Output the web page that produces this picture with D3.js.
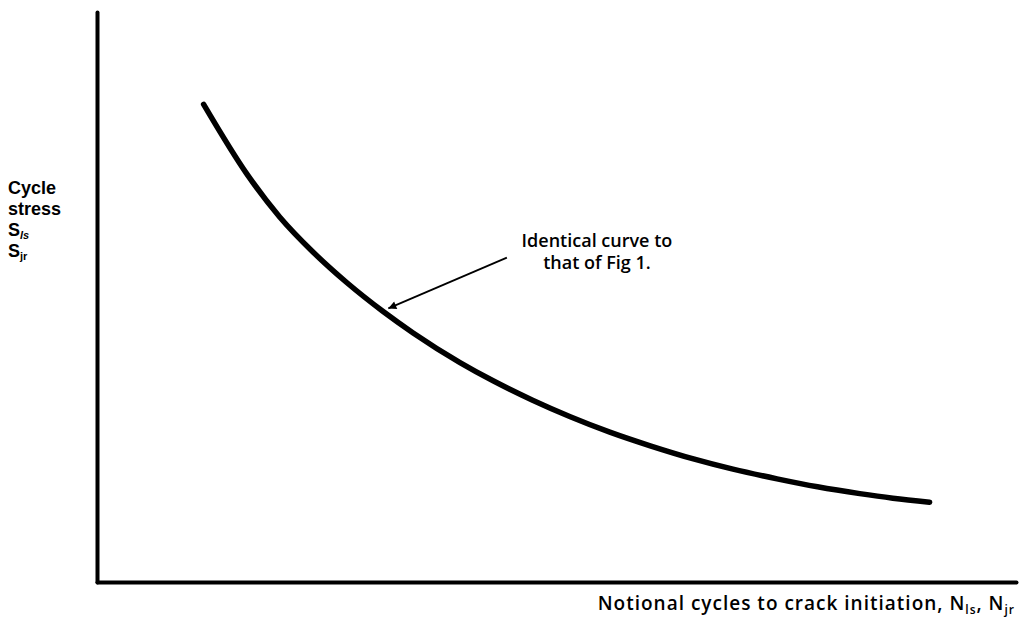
<!DOCTYPE html>
<html>
<head>
<meta charset="utf-8">
<script src="https://cdn.jsdelivr.net/npm/d3@7"></script>
<style>
  body { margin: 0; background: #fff; }
  svg text { font-family: "Open Sans", "Liberation Sans", Arial, sans-serif; font-weight: 600; fill: #000; }
  svg text.ytitle { font-family: "Liberation Sans", Arial, sans-serif; font-weight: bold; }
</style>
</head>
<body>
<svg id="chart" width="1022" height="635"></svg>
<script>
// S-N curve, arbitrary units (axes carry no scale in the original)
let cyclesN = [11.6, 16.3, 19.9, 23.5, 27.2, 31.1, 34.4, 39.5, 43.1, 47.4, 51.5, 55.8, 60.2, 64.9, 69.2, 74.0, 78.4, 83.0, 86.6, 90.6];
let stressS = [83.8, 71.6, 64.0, 57.9, 52.5, 47.5, 43.7, 38.5, 35.3, 31.9, 29.0, 26.3, 23.9, 21.6, 19.8, 18.1, 16.7, 15.5, 14.7, 14.0];

// annotation arrow (tail -> tip) in data units
let arrowX = [44.6, 31.7];
let arrowY = [56.9, 48.0];
let noteLines = ["Identical curve to", "that of Fig 1."];

let svg = d3.select('#chart');
let pad = {t: 12, r: 6, b: 53, l: 97};
let width = +svg.attr('width');
let height = +svg.attr('height');
let chartW = width - pad.l - pad.r;
let chartH = height - pad.t - pad.b;

let xScale = d3.scaleLinear().domain([0, 100]).range([0, chartW]);
let yScale = d3.scaleLinear().domain([0, 100]).range([chartH, 0]);

let g = svg.append('g').attr('transform', `translate(${pad.l},${pad.t})`);

// axes: bare lines, no ticks
let yAxis = g.append('g').call(d3.axisLeft(yScale).tickValues([]).tickSizeOuter(0));
let xAxis = g.append('g')
    .attr('transform', `translate(0,${chartH})`)
    .call(d3.axisBottom(xScale).tickValues([]).tickSizeOuter(0));
[xAxis, yAxis].forEach(a => a.select('.domain')
    .attr('stroke', '#000')
    .attr('stroke-width', 4)
    .attr('stroke-linecap', 'round'));

// curve
let line = d3.line()
    .x((d, i) => xScale(cyclesN[i]))
    .y(d => yScale(d))
    .curve(d3.curveMonotoneX);
g.append('path')
    .datum(stressS)
    .attr('d', line)
    .attr('fill', 'none')
    .attr('stroke', '#000')
    .attr('stroke-width', 5.5)
    .attr('stroke-linecap', 'round');

// arrow
svg.append('defs').append('marker')
    .attr('id', 'head')
    .attr('viewBox', '0 0 10 10')
    .attr('refX', 10).attr('refY', 5)
    .attr('markerWidth', 15).attr('markerHeight', 8)
    .attr('markerUnits', 'userSpaceOnUse')
    .attr('orient', 'auto')
    .append('path')
    .attr('d', 'M0,0 L10,5 L0,10 Z')
    .attr('fill', '#000');

g.append('line')
    .attr('x1', xScale(arrowX[0])).attr('y1', yScale(arrowY[0]))
    .attr('x2', xScale(arrowX[1])).attr('y2', yScale(arrowY[1]))
    .attr('stroke', '#000')
    .attr('stroke-width', 1.8)
    .attr('marker-end', 'url(#head)');

// note text
let note = g.append('text')
    .attr('text-anchor', 'middle')
    .style('font-size', '18px');
note.selectAll('tspan').data(noteLines).join('tspan')
    .attr('x', xScale(54.4))
    .attr('y', (d, i) => yScale(58.7) + i * 22)
    .text(d => d);

// y title, one text per line
let yLines = [
    {y: 194, main: 'Cycle'},
    {y: 215, main: 'stress'},
    {y: 236, main: 'S', sub: 'ls', italic: true},
    {y: 257, main: 'S', sub: 'jr'}
];
yLines.forEach(l => {
    let t = svg.append('text')
        .attr('class', 'ytitle')
        .attr('x', 8)
        .attr('y', l.y)
        .style('font-size', '18px')
        .text(l.main);
    if (l.sub) {
        t.append('tspan').attr('dy', 3)
            .style('font-size', '11px')
            .style('font-style', l.italic ? 'italic' : 'normal')
            .text(l.sub);
    }
});

// x title
let xTitle = svg.append('text')
    .attr('x', 1015)
    .attr('y', 610)
    .attr('text-anchor', 'end')
    .style('font-size', '19px')
    .style('letter-spacing', '1px');
xTitle.append('tspan').text('Notional cycles to crack initiation, N');
xTitle.append('tspan').attr('dy', 4).style('font-size', '12px').text('ls');
xTitle.append('tspan').attr('dy', -4).text(', N');
xTitle.append('tspan').attr('dy', 4).style('font-size', '12px').text('jr');
</script>
</body>
</html>
